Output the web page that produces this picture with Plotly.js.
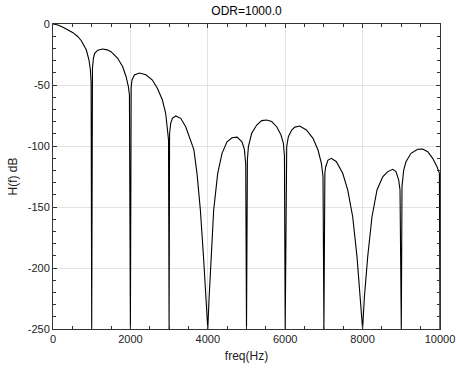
<!DOCTYPE html>
<html>
<head>
<meta charset="utf-8">
<script src="https://cdn.plot.ly/plotly-3.0.1.min.js"></script>
<style>html,body{margin:0;padding:0;background:#fff;}#chart{width:457px;height:370px;}</style>
</head>
<body>
<div id="chart"></div>
<script>
// Frequency (Hz) and response (dB)
var freqHz = [0, 130, 258, 390, 517, 630, 733, 862, 930, 966, 985, 1000, 1008, 1020, 1045, 1077, 1157, 1284, 1400, 1499, 1672, 1801, 1887, 1948, 1975, 2000, 2020, 2041, 2103, 2232, 2400, 2568, 2697, 2827, 2912, 2956, 2985, 3000, 3012, 3041, 3085, 3171, 3300, 3429, 3558, 3640, 3721, 3808, 3894, 3963, 4000, 4031, 4083, 4152, 4256, 4367, 4496, 4625, 4755, 4884, 4946, 4980, 5000, 5023, 5049, 5134, 5264, 5393, 5522, 5651, 5780, 5892, 5953, 5980, 6000, 6020, 6039, 6082, 6168, 6250, 6375, 6548, 6718, 6848, 6935, 6977, 7000, 7025, 7047, 7106, 7194, 7323, 7486, 7615, 7744, 7855, 7943, 8000, 8047, 8132, 8243, 8372, 8519, 8649, 8778, 8863, 8933, 8967, 9000, 9018, 9062, 9121, 9251, 9424, 9553, 9682, 9811, 9923, 9985, 10000];
var responseDb = [0, -0.8, -2.7, -4.8, -7.1, -10, -13.7, -21.3, -29.5, -37.7, -48, -250, -50, -36, -28, -24, -21.5, -20.5, -21.2, -22.7, -28.1, -35, -43, -51.4, -58, -250, -52, -45.9, -41.8, -40.2, -41.6, -45.9, -52.7, -62.3, -73.2, -84.2, -95, -250, -90, -81.4, -77.3, -75.4, -77.3, -84.2, -95.1, -103, -122.4, -152.5, -193.4, -226, -250, -226, -193.4, -152.5, -122.4, -106, -96.5, -93.2, -92.7, -96.5, -103, -115, -250, -111.5, -100.5, -89.6, -82.8, -79.2, -78.7, -80, -84.2, -91, -97.8, -108, -250, -105, -100.5, -92.4, -86.9, -84.5, -83.6, -86.9, -93.7, -103.3, -114.2, -125.2, -250, -122, -117, -111.5, -110.1, -112.9, -122.4, -136, -158, -190.7, -223.5, -250, -223.5, -190.7, -158, -136, -125.2, -121, -119.1, -121, -127.9, -136, -250, -133.3, -119.7, -112.9, -106, -102.7, -102.5, -104.7, -110.1, -117, -122.4, -250];
var xTicks = [0, 2000, 4000, 6000, 8000, 10000];
var yTicks = [0, -50, -100, -150, -200, -250];

var FONT = '"Liberation Sans", Arial, Helvetica, sans-serif';

var trace = {
  x: freqHz,
  y: responseDb,
  type: 'scatter',
  mode: 'lines',
  line: {color: '#000000', width: 1.1},
  hoverinfo: 'skip'
};

var axisCommon = {
  showline: true,
  linecolor: '#333333',
  linewidth: 1,
  mirror: 'ticks',
  ticks: 'inside',
  ticklen: 4,
  tickwidth: 1,
  tickcolor: '#333333',
  showgrid: true,
  gridcolor: '#e3e3e3',
  gridwidth: 1,
  zeroline: false,
  tickfont: {family: FONT, size: 11, color: '#222222'}
};

var layout = {
  width: 457,
  height: 370,
  margin: {l: 53, r: 17, t: 24, b: 41},
  paper_bgcolor: '#ffffff',
  plot_bgcolor: '#ffffff',
  showlegend: false,
  title: {
    text: 'ODR=1000.0',
    font: {family: FONT, size: 12, color: '#000000'},
    x: 0.5, xref: 'paper', xanchor: 'center',
    y: 0.97, yref: 'container', yanchor: 'middle'
  },
  xaxis: Object.assign({}, axisCommon, {
    range: [0, 10000],
    tickmode: 'array',
    tickvals: xTicks,
    ticktext: xTicks.map(String),
    minor: {dtick: 500, tick0: 0, ticks: 'inside', ticklen: 3, tickcolor: '#333333', showgrid: false},
    title: {text: 'freq(Hz)', font: {family: FONT, size: 12, color: '#222222'}, standoff: 7}
  }),
  yaxis: Object.assign({}, axisCommon, {
    range: [-250, 0],
    tickmode: 'array',
    tickvals: yTicks,
    ticktext: yTicks.map(String),
    minor: {dtick: 10, tick0: 0, ticks: 'inside', ticklen: 3, tickcolor: '#333333', showgrid: false},
    title: {text: 'H(f) dB', font: {family: FONT, size: 12, color: '#222222'}, standoff: 7}
  })
};

Plotly.newPlot('chart', [trace], layout, {displayModeBar: false, staticPlot: true});
</script>
</body>
</html>
